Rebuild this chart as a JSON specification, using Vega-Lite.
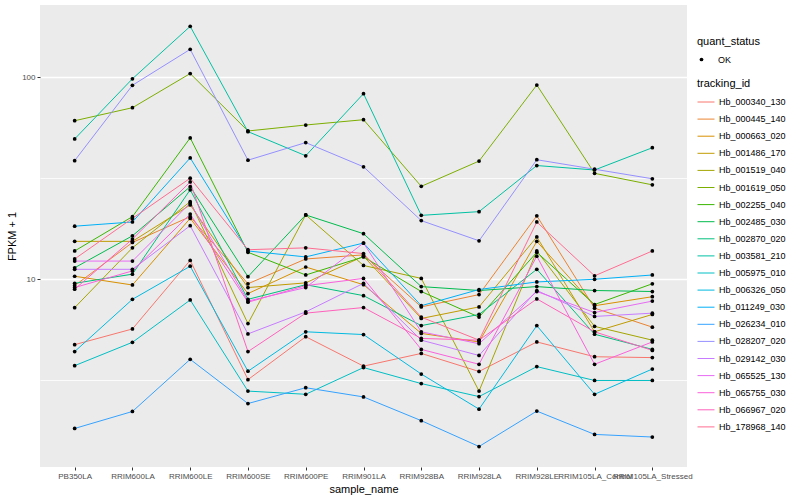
{
  "$schema": "https://vega.github.io/schema/vega-lite/v6.json",
  "autosize": {"type": "none"},
  "padding": {"left": 40, "top": 5, "right": 113, "bottom": 33},
  "width": 647,
  "height": 462,
  "background": "white",
  "config": {
    "font": "Liberation Sans",
    "view": {"fill": "#EBEBEB", "stroke": null},
    "axis": {"domain": false, "labelColor": "#4D4D4D", "labelFontSize": 8, "tickColor": "#333333", "tickSize": 3, "titleFontSize": 11, "titleFontWeight": "normal", "titleColor": "black", "gridColor": "white"},
    "legend": {"titleFontSize": 11, "titleFontWeight": "normal", "titleColor": "black", "labelFontSize": 9, "labelColor": "black", "titlePadding": 4}
  },
  "data": {"values": [
{"tracking_id":"Hb_000340_130","sample_name":"PB350LA","FPKM":4.75,"quant_status":"OK"},
{"tracking_id":"Hb_000340_130","sample_name":"RRIM600LA","FPKM":5.68,"quant_status":"OK"},
{"tracking_id":"Hb_000340_130","sample_name":"RRIM600LE","FPKM":12.4,"quant_status":"OK"},
{"tracking_id":"Hb_000340_130","sample_name":"RRIM600SE","FPKM":3.19,"quant_status":"OK"},
{"tracking_id":"Hb_000340_130","sample_name":"RRIM600PE","FPKM":5.2,"quant_status":"OK"},
{"tracking_id":"Hb_000340_130","sample_name":"RRIM901LA","FPKM":3.72,"quant_status":"OK"},
{"tracking_id":"Hb_000340_130","sample_name":"RRIM928BA","FPKM":4.3,"quant_status":"OK"},
{"tracking_id":"Hb_000340_130","sample_name":"RRIM928LA","FPKM":3.5,"quant_status":"OK"},
{"tracking_id":"Hb_000340_130","sample_name":"RRIM928LE","FPKM":4.9,"quant_status":"OK"},
{"tracking_id":"Hb_000340_130","sample_name":"RRIM105LA_Control","FPKM":4.14,"quant_status":"OK"},
{"tracking_id":"Hb_000340_130","sample_name":"RRIM105LA_Stressed","FPKM":4.1,"quant_status":"OK"},
{"tracking_id":"Hb_000445_140","sample_name":"PB350LA","FPKM":9.3,"quant_status":"OK"},
{"tracking_id":"Hb_000445_140","sample_name":"RRIM600LA","FPKM":15.2,"quant_status":"OK"},
{"tracking_id":"Hb_000445_140","sample_name":"RRIM600LE","FPKM":20.4,"quant_status":"OK"},
{"tracking_id":"Hb_000445_140","sample_name":"RRIM600SE","FPKM":9.5,"quant_status":"OK"},
{"tracking_id":"Hb_000445_140","sample_name":"RRIM600PE","FPKM":12.6,"quant_status":"OK"},
{"tracking_id":"Hb_000445_140","sample_name":"RRIM901LA","FPKM":13.2,"quant_status":"OK"},
{"tracking_id":"Hb_000445_140","sample_name":"RRIM928BA","FPKM":7.3,"quant_status":"OK"},
{"tracking_id":"Hb_000445_140","sample_name":"RRIM928LA","FPKM":8.4,"quant_status":"OK"},
{"tracking_id":"Hb_000445_140","sample_name":"RRIM928LE","FPKM":20.6,"quant_status":"OK"},
{"tracking_id":"Hb_000445_140","sample_name":"RRIM105LA_Control","FPKM":7.2,"quant_status":"OK"},
{"tracking_id":"Hb_000445_140","sample_name":"RRIM105LA_Stressed","FPKM":5.8,"quant_status":"OK"},
{"tracking_id":"Hb_000663_020","sample_name":"PB350LA","FPKM":10.35,"quant_status":"OK"},
{"tracking_id":"Hb_000663_020","sample_name":"RRIM600LA","FPKM":9.37,"quant_status":"OK"},
{"tracking_id":"Hb_000663_020","sample_name":"RRIM600LE","FPKM":20.0,"quant_status":"OK"},
{"tracking_id":"Hb_000663_020","sample_name":"RRIM600SE","FPKM":8.5,"quant_status":"OK"},
{"tracking_id":"Hb_000663_020","sample_name":"RRIM600PE","FPKM":11.5,"quant_status":"OK"},
{"tracking_id":"Hb_000663_020","sample_name":"RRIM901LA","FPKM":9.4,"quant_status":"OK"},
{"tracking_id":"Hb_000663_020","sample_name":"RRIM928BA","FPKM":5.4,"quant_status":"OK"},
{"tracking_id":"Hb_000663_020","sample_name":"RRIM928LA","FPKM":4.9,"quant_status":"OK"},
{"tracking_id":"Hb_000663_020","sample_name":"RRIM928LE","FPKM":15.4,"quant_status":"OK"},
{"tracking_id":"Hb_000663_020","sample_name":"RRIM105LA_Control","FPKM":7.4,"quant_status":"OK"},
{"tracking_id":"Hb_000663_020","sample_name":"RRIM105LA_Stressed","FPKM":8.2,"quant_status":"OK"},
{"tracking_id":"Hb_001486_170","sample_name":"PB350LA","FPKM":15.4,"quant_status":"OK"},
{"tracking_id":"Hb_001486_170","sample_name":"RRIM600LA","FPKM":15.4,"quant_status":"OK"},
{"tracking_id":"Hb_001486_170","sample_name":"RRIM600LE","FPKM":23.3,"quant_status":"OK"},
{"tracking_id":"Hb_001486_170","sample_name":"RRIM600SE","FPKM":9.1,"quant_status":"OK"},
{"tracking_id":"Hb_001486_170","sample_name":"RRIM600PE","FPKM":9.6,"quant_status":"OK"},
{"tracking_id":"Hb_001486_170","sample_name":"RRIM901LA","FPKM":13.0,"quant_status":"OK"},
{"tracking_id":"Hb_001486_170","sample_name":"RRIM928BA","FPKM":6.4,"quant_status":"OK"},
{"tracking_id":"Hb_001486_170","sample_name":"RRIM928LA","FPKM":7.3,"quant_status":"OK"},
{"tracking_id":"Hb_001486_170","sample_name":"RRIM928LE","FPKM":16.2,"quant_status":"OK"},
{"tracking_id":"Hb_001486_170","sample_name":"RRIM105LA_Control","FPKM":5.5,"quant_status":"OK"},
{"tracking_id":"Hb_001486_170","sample_name":"RRIM105LA_Stressed","FPKM":6.7,"quant_status":"OK"},
{"tracking_id":"Hb_001519_040","sample_name":"PB350LA","FPKM":7.24,"quant_status":"OK"},
{"tracking_id":"Hb_001519_040","sample_name":"RRIM600LA","FPKM":14.3,"quant_status":"OK"},
{"tracking_id":"Hb_001519_040","sample_name":"RRIM600LE","FPKM":24.2,"quant_status":"OK"},
{"tracking_id":"Hb_001519_040","sample_name":"RRIM600SE","FPKM":6.04,"quant_status":"OK"},
{"tracking_id":"Hb_001519_040","sample_name":"RRIM600PE","FPKM":20.8,"quant_status":"OK"},
{"tracking_id":"Hb_001519_040","sample_name":"RRIM901LA","FPKM":11.7,"quant_status":"OK"},
{"tracking_id":"Hb_001519_040","sample_name":"RRIM928BA","FPKM":10.1,"quant_status":"OK"},
{"tracking_id":"Hb_001519_040","sample_name":"RRIM928LA","FPKM":2.8,"quant_status":"OK"},
{"tracking_id":"Hb_001519_040","sample_name":"RRIM928LE","FPKM":13.8,"quant_status":"OK"},
{"tracking_id":"Hb_001519_040","sample_name":"RRIM105LA_Control","FPKM":5.85,"quant_status":"OK"},
{"tracking_id":"Hb_001519_040","sample_name":"RRIM105LA_Stressed","FPKM":5.0,"quant_status":"OK"},
{"tracking_id":"Hb_001619_050","sample_name":"PB350LA","FPKM":60.8,"quant_status":"OK"},
{"tracking_id":"Hb_001619_050","sample_name":"RRIM600LA","FPKM":70.5,"quant_status":"OK"},
{"tracking_id":"Hb_001619_050","sample_name":"RRIM600LE","FPKM":104,"quant_status":"OK"},
{"tracking_id":"Hb_001619_050","sample_name":"RRIM600SE","FPKM":54.1,"quant_status":"OK"},
{"tracking_id":"Hb_001619_050","sample_name":"RRIM600PE","FPKM":57.9,"quant_status":"OK"},
{"tracking_id":"Hb_001619_050","sample_name":"RRIM901LA","FPKM":61.5,"quant_status":"OK"},
{"tracking_id":"Hb_001619_050","sample_name":"RRIM928BA","FPKM":28.8,"quant_status":"OK"},
{"tracking_id":"Hb_001619_050","sample_name":"RRIM928LA","FPKM":38.4,"quant_status":"OK"},
{"tracking_id":"Hb_001619_050","sample_name":"RRIM928LE","FPKM":91.3,"quant_status":"OK"},
{"tracking_id":"Hb_001619_050","sample_name":"RRIM105LA_Control","FPKM":33.4,"quant_status":"OK"},
{"tracking_id":"Hb_001619_050","sample_name":"RRIM105LA_Stressed","FPKM":29.3,"quant_status":"OK"},
{"tracking_id":"Hb_002255_040","sample_name":"PB350LA","FPKM":13.8,"quant_status":"OK"},
{"tracking_id":"Hb_002255_040","sample_name":"RRIM600LA","FPKM":20.4,"quant_status":"OK"},
{"tracking_id":"Hb_002255_040","sample_name":"RRIM600LE","FPKM":50,"quant_status":"OK"},
{"tracking_id":"Hb_002255_040","sample_name":"RRIM600SE","FPKM":13.6,"quant_status":"OK"},
{"tracking_id":"Hb_002255_040","sample_name":"RRIM600PE","FPKM":10.5,"quant_status":"OK"},
{"tracking_id":"Hb_002255_040","sample_name":"RRIM901LA","FPKM":12.9,"quant_status":"OK"},
{"tracking_id":"Hb_002255_040","sample_name":"RRIM928BA","FPKM":8.7,"quant_status":"OK"},
{"tracking_id":"Hb_002255_040","sample_name":"RRIM928LA","FPKM":6.5,"quant_status":"OK"},
{"tracking_id":"Hb_002255_040","sample_name":"RRIM928LE","FPKM":13.6,"quant_status":"OK"},
{"tracking_id":"Hb_002255_040","sample_name":"RRIM105LA_Control","FPKM":7.5,"quant_status":"OK"},
{"tracking_id":"Hb_002255_040","sample_name":"RRIM105LA_Stressed","FPKM":9.5,"quant_status":"OK"},
{"tracking_id":"Hb_002485_030","sample_name":"PB350LA","FPKM":11.4,"quant_status":"OK"},
{"tracking_id":"Hb_002485_030","sample_name":"RRIM600LA","FPKM":16.4,"quant_status":"OK"},
{"tracking_id":"Hb_002485_030","sample_name":"RRIM600LE","FPKM":28.7,"quant_status":"OK"},
{"tracking_id":"Hb_002485_030","sample_name":"RRIM600SE","FPKM":10.3,"quant_status":"OK"},
{"tracking_id":"Hb_002485_030","sample_name":"RRIM600PE","FPKM":20.8,"quant_status":"OK"},
{"tracking_id":"Hb_002485_030","sample_name":"RRIM901LA","FPKM":16.8,"quant_status":"OK"},
{"tracking_id":"Hb_002485_030","sample_name":"RRIM928BA","FPKM":9.2,"quant_status":"OK"},
{"tracking_id":"Hb_002485_030","sample_name":"RRIM928LA","FPKM":8.8,"quant_status":"OK"},
{"tracking_id":"Hb_002485_030","sample_name":"RRIM928LE","FPKM":9.2,"quant_status":"OK"},
{"tracking_id":"Hb_002485_030","sample_name":"RRIM105LA_Control","FPKM":8.8,"quant_status":"OK"},
{"tracking_id":"Hb_002485_030","sample_name":"RRIM105LA_Stressed","FPKM":8.7,"quant_status":"OK"},
{"tracking_id":"Hb_002870_020","sample_name":"PB350LA","FPKM":9.55,"quant_status":"OK"},
{"tracking_id":"Hb_002870_020","sample_name":"RRIM600LA","FPKM":10.6,"quant_status":"OK"},
{"tracking_id":"Hb_002870_020","sample_name":"RRIM600LE","FPKM":27.7,"quant_status":"OK"},
{"tracking_id":"Hb_002870_020","sample_name":"RRIM600SE","FPKM":7.96,"quant_status":"OK"},
{"tracking_id":"Hb_002870_020","sample_name":"RRIM600PE","FPKM":9.4,"quant_status":"OK"},
{"tracking_id":"Hb_002870_020","sample_name":"RRIM901LA","FPKM":8.3,"quant_status":"OK"},
{"tracking_id":"Hb_002870_020","sample_name":"RRIM928BA","FPKM":5.9,"quant_status":"OK"},
{"tracking_id":"Hb_002870_020","sample_name":"RRIM928LA","FPKM":6.7,"quant_status":"OK"},
{"tracking_id":"Hb_002870_020","sample_name":"RRIM928LE","FPKM":11.2,"quant_status":"OK"},
{"tracking_id":"Hb_002870_020","sample_name":"RRIM105LA_Control","FPKM":5.35,"quant_status":"OK"},
{"tracking_id":"Hb_002870_020","sample_name":"RRIM105LA_Stressed","FPKM":4.5,"quant_status":"OK"},
{"tracking_id":"Hb_003581_210","sample_name":"PB350LA","FPKM":49.4,"quant_status":"OK"},
{"tracking_id":"Hb_003581_210","sample_name":"RRIM600LA","FPKM":98,"quant_status":"OK"},
{"tracking_id":"Hb_003581_210","sample_name":"RRIM600LE","FPKM":178,"quant_status":"OK"},
{"tracking_id":"Hb_003581_210","sample_name":"RRIM600SE","FPKM":53.7,"quant_status":"OK"},
{"tracking_id":"Hb_003581_210","sample_name":"RRIM600PE","FPKM":40.8,"quant_status":"OK"},
{"tracking_id":"Hb_003581_210","sample_name":"RRIM901LA","FPKM":82.7,"quant_status":"OK"},
{"tracking_id":"Hb_003581_210","sample_name":"RRIM928BA","FPKM":20.7,"quant_status":"OK"},
{"tracking_id":"Hb_003581_210","sample_name":"RRIM928LA","FPKM":21.6,"quant_status":"OK"},
{"tracking_id":"Hb_003581_210","sample_name":"RRIM928LE","FPKM":36.5,"quant_status":"OK"},
{"tracking_id":"Hb_003581_210","sample_name":"RRIM105LA_Control","FPKM":34.7,"quant_status":"OK"},
{"tracking_id":"Hb_003581_210","sample_name":"RRIM105LA_Stressed","FPKM":44.7,"quant_status":"OK"},
{"tracking_id":"Hb_005975_010","sample_name":"PB350LA","FPKM":3.74,"quant_status":"OK"},
{"tracking_id":"Hb_005975_010","sample_name":"RRIM600LA","FPKM":4.88,"quant_status":"OK"},
{"tracking_id":"Hb_005975_010","sample_name":"RRIM600LE","FPKM":7.9,"quant_status":"OK"},
{"tracking_id":"Hb_005975_010","sample_name":"RRIM600SE","FPKM":2.8,"quant_status":"OK"},
{"tracking_id":"Hb_005975_010","sample_name":"RRIM600PE","FPKM":2.7,"quant_status":"OK"},
{"tracking_id":"Hb_005975_010","sample_name":"RRIM901LA","FPKM":3.66,"quant_status":"OK"},
{"tracking_id":"Hb_005975_010","sample_name":"RRIM928BA","FPKM":3.05,"quant_status":"OK"},
{"tracking_id":"Hb_005975_010","sample_name":"RRIM928LA","FPKM":2.63,"quant_status":"OK"},
{"tracking_id":"Hb_005975_010","sample_name":"RRIM928LE","FPKM":3.7,"quant_status":"OK"},
{"tracking_id":"Hb_005975_010","sample_name":"RRIM105LA_Control","FPKM":3.16,"quant_status":"OK"},
{"tracking_id":"Hb_005975_010","sample_name":"RRIM105LA_Stressed","FPKM":3.16,"quant_status":"OK"},
{"tracking_id":"Hb_006326_050","sample_name":"PB350LA","FPKM":4.39,"quant_status":"OK"},
{"tracking_id":"Hb_006326_050","sample_name":"RRIM600LA","FPKM":7.96,"quant_status":"OK"},
{"tracking_id":"Hb_006326_050","sample_name":"RRIM600LE","FPKM":11.6,"quant_status":"OK"},
{"tracking_id":"Hb_006326_050","sample_name":"RRIM600SE","FPKM":3.51,"quant_status":"OK"},
{"tracking_id":"Hb_006326_050","sample_name":"RRIM600PE","FPKM":5.5,"quant_status":"OK"},
{"tracking_id":"Hb_006326_050","sample_name":"RRIM901LA","FPKM":5.33,"quant_status":"OK"},
{"tracking_id":"Hb_006326_050","sample_name":"RRIM928BA","FPKM":3.4,"quant_status":"OK"},
{"tracking_id":"Hb_006326_050","sample_name":"RRIM928LA","FPKM":2.28,"quant_status":"OK"},
{"tracking_id":"Hb_006326_050","sample_name":"RRIM928LE","FPKM":5.9,"quant_status":"OK"},
{"tracking_id":"Hb_006326_050","sample_name":"RRIM105LA_Control","FPKM":2.7,"quant_status":"OK"},
{"tracking_id":"Hb_006326_050","sample_name":"RRIM105LA_Stressed","FPKM":3.6,"quant_status":"OK"},
{"tracking_id":"Hb_011249_030","sample_name":"PB350LA","FPKM":18.3,"quant_status":"OK"},
{"tracking_id":"Hb_011249_030","sample_name":"RRIM600LA","FPKM":19.2,"quant_status":"OK"},
{"tracking_id":"Hb_011249_030","sample_name":"RRIM600LE","FPKM":39.8,"quant_status":"OK"},
{"tracking_id":"Hb_011249_030","sample_name":"RRIM600SE","FPKM":13.8,"quant_status":"OK"},
{"tracking_id":"Hb_011249_030","sample_name":"RRIM600PE","FPKM":12.9,"quant_status":"OK"},
{"tracking_id":"Hb_011249_030","sample_name":"RRIM901LA","FPKM":15.1,"quant_status":"OK"},
{"tracking_id":"Hb_011249_030","sample_name":"RRIM928BA","FPKM":7.4,"quant_status":"OK"},
{"tracking_id":"Hb_011249_030","sample_name":"RRIM928LA","FPKM":8.9,"quant_status":"OK"},
{"tracking_id":"Hb_011249_030","sample_name":"RRIM928LE","FPKM":9.7,"quant_status":"OK"},
{"tracking_id":"Hb_011249_030","sample_name":"RRIM105LA_Control","FPKM":10.0,"quant_status":"OK"},
{"tracking_id":"Hb_011249_030","sample_name":"RRIM105LA_Stressed","FPKM":10.5,"quant_status":"OK"},
{"tracking_id":"Hb_026234_010","sample_name":"PB350LA","FPKM":1.83,"quant_status":"OK"},
{"tracking_id":"Hb_026234_010","sample_name":"RRIM600LA","FPKM":2.22,"quant_status":"OK"},
{"tracking_id":"Hb_026234_010","sample_name":"RRIM600LE","FPKM":4.02,"quant_status":"OK"},
{"tracking_id":"Hb_026234_010","sample_name":"RRIM600SE","FPKM":2.43,"quant_status":"OK"},
{"tracking_id":"Hb_026234_010","sample_name":"RRIM600PE","FPKM":2.91,"quant_status":"OK"},
{"tracking_id":"Hb_026234_010","sample_name":"RRIM901LA","FPKM":2.62,"quant_status":"OK"},
{"tracking_id":"Hb_026234_010","sample_name":"RRIM928BA","FPKM":2.0,"quant_status":"OK"},
{"tracking_id":"Hb_026234_010","sample_name":"RRIM928LA","FPKM":1.49,"quant_status":"OK"},
{"tracking_id":"Hb_026234_010","sample_name":"RRIM928LE","FPKM":2.23,"quant_status":"OK"},
{"tracking_id":"Hb_026234_010","sample_name":"RRIM105LA_Control","FPKM":1.71,"quant_status":"OK"},
{"tracking_id":"Hb_026234_010","sample_name":"RRIM105LA_Stressed","FPKM":1.66,"quant_status":"OK"},
{"tracking_id":"Hb_028207_020","sample_name":"PB350LA","FPKM":38.6,"quant_status":"OK"},
{"tracking_id":"Hb_028207_020","sample_name":"RRIM600LA","FPKM":91,"quant_status":"OK"},
{"tracking_id":"Hb_028207_020","sample_name":"RRIM600LE","FPKM":137,"quant_status":"OK"},
{"tracking_id":"Hb_028207_020","sample_name":"RRIM600SE","FPKM":38.8,"quant_status":"OK"},
{"tracking_id":"Hb_028207_020","sample_name":"RRIM600PE","FPKM":47.4,"quant_status":"OK"},
{"tracking_id":"Hb_028207_020","sample_name":"RRIM901LA","FPKM":36,"quant_status":"OK"},
{"tracking_id":"Hb_028207_020","sample_name":"RRIM928BA","FPKM":19.5,"quant_status":"OK"},
{"tracking_id":"Hb_028207_020","sample_name":"RRIM928LA","FPKM":15.5,"quant_status":"OK"},
{"tracking_id":"Hb_028207_020","sample_name":"RRIM928LE","FPKM":39,"quant_status":"OK"},
{"tracking_id":"Hb_028207_020","sample_name":"RRIM105LA_Control","FPKM":35,"quant_status":"OK"},
{"tracking_id":"Hb_028207_020","sample_name":"RRIM105LA_Stressed","FPKM":31.4,"quant_status":"OK"},
{"tracking_id":"Hb_029142_030","sample_name":"PB350LA","FPKM":11.2,"quant_status":"OK"},
{"tracking_id":"Hb_029142_030","sample_name":"RRIM600LA","FPKM":11.2,"quant_status":"OK"},
{"tracking_id":"Hb_029142_030","sample_name":"RRIM600LE","FPKM":18.4,"quant_status":"OK"},
{"tracking_id":"Hb_029142_030","sample_name":"RRIM600SE","FPKM":5.37,"quant_status":"OK"},
{"tracking_id":"Hb_029142_030","sample_name":"RRIM600PE","FPKM":6.9,"quant_status":"OK"},
{"tracking_id":"Hb_029142_030","sample_name":"RRIM901LA","FPKM":9.55,"quant_status":"OK"},
{"tracking_id":"Hb_029142_030","sample_name":"RRIM928BA","FPKM":5.0,"quant_status":"OK"},
{"tracking_id":"Hb_029142_030","sample_name":"RRIM928LA","FPKM":4.2,"quant_status":"OK"},
{"tracking_id":"Hb_029142_030","sample_name":"RRIM928LE","FPKM":8.8,"quant_status":"OK"},
{"tracking_id":"Hb_029142_030","sample_name":"RRIM105LA_Control","FPKM":6.55,"quant_status":"OK"},
{"tracking_id":"Hb_029142_030","sample_name":"RRIM105LA_Stressed","FPKM":6.8,"quant_status":"OK"},
{"tracking_id":"Hb_065525_130","sample_name":"PB350LA","FPKM":12.3,"quant_status":"OK"},
{"tracking_id":"Hb_065525_130","sample_name":"RRIM600LA","FPKM":12.3,"quant_status":"OK"},
{"tracking_id":"Hb_065525_130","sample_name":"RRIM600LE","FPKM":23.8,"quant_status":"OK"},
{"tracking_id":"Hb_065525_130","sample_name":"RRIM600SE","FPKM":7.8,"quant_status":"OK"},
{"tracking_id":"Hb_065525_130","sample_name":"RRIM600PE","FPKM":9.1,"quant_status":"OK"},
{"tracking_id":"Hb_065525_130","sample_name":"RRIM901LA","FPKM":15.1,"quant_status":"OK"},
{"tracking_id":"Hb_065525_130","sample_name":"RRIM928BA","FPKM":5.5,"quant_status":"OK"},
{"tracking_id":"Hb_065525_130","sample_name":"RRIM928LA","FPKM":4.8,"quant_status":"OK"},
{"tracking_id":"Hb_065525_130","sample_name":"RRIM928LE","FPKM":8.7,"quant_status":"OK"},
{"tracking_id":"Hb_065525_130","sample_name":"RRIM105LA_Control","FPKM":6.85,"quant_status":"OK"},
{"tracking_id":"Hb_065525_130","sample_name":"RRIM105LA_Stressed","FPKM":7.8,"quant_status":"OK"},
{"tracking_id":"Hb_065755_030","sample_name":"PB350LA","FPKM":9.1,"quant_status":"OK"},
{"tracking_id":"Hb_065755_030","sample_name":"RRIM600LA","FPKM":11.0,"quant_status":"OK"},
{"tracking_id":"Hb_065755_030","sample_name":"RRIM600LE","FPKM":21.0,"quant_status":"OK"},
{"tracking_id":"Hb_065755_030","sample_name":"RRIM600SE","FPKM":7.7,"quant_status":"OK"},
{"tracking_id":"Hb_065755_030","sample_name":"RRIM600PE","FPKM":9.3,"quant_status":"OK"},
{"tracking_id":"Hb_065755_030","sample_name":"RRIM901LA","FPKM":10.1,"quant_status":"OK"},
{"tracking_id":"Hb_065755_030","sample_name":"RRIM928BA","FPKM":4.5,"quant_status":"OK"},
{"tracking_id":"Hb_065755_030","sample_name":"RRIM928LA","FPKM":3.8,"quant_status":"OK"},
{"tracking_id":"Hb_065755_030","sample_name":"RRIM928LE","FPKM":13.0,"quant_status":"OK"},
{"tracking_id":"Hb_065755_030","sample_name":"RRIM105LA_Control","FPKM":3.8,"quant_status":"OK"},
{"tracking_id":"Hb_065755_030","sample_name":"RRIM105LA_Stressed","FPKM":4.9,"quant_status":"OK"},
{"tracking_id":"Hb_066967_020","sample_name":"PB350LA","FPKM":8.93,"quant_status":"OK"},
{"tracking_id":"Hb_066967_020","sample_name":"RRIM600LA","FPKM":15.8,"quant_status":"OK"},
{"tracking_id":"Hb_066967_020","sample_name":"RRIM600LE","FPKM":30.3,"quant_status":"OK"},
{"tracking_id":"Hb_066967_020","sample_name":"RRIM600SE","FPKM":4.39,"quant_status":"OK"},
{"tracking_id":"Hb_066967_020","sample_name":"RRIM600PE","FPKM":6.8,"quant_status":"OK"},
{"tracking_id":"Hb_066967_020","sample_name":"RRIM901LA","FPKM":7.25,"quant_status":"OK"},
{"tracking_id":"Hb_066967_020","sample_name":"RRIM928BA","FPKM":5.1,"quant_status":"OK"},
{"tracking_id":"Hb_066967_020","sample_name":"RRIM928LA","FPKM":5.0,"quant_status":"OK"},
{"tracking_id":"Hb_066967_020","sample_name":"RRIM928LE","FPKM":8.0,"quant_status":"OK"},
{"tracking_id":"Hb_066967_020","sample_name":"RRIM105LA_Control","FPKM":5.5,"quant_status":"OK"},
{"tracking_id":"Hb_066967_020","sample_name":"RRIM105LA_Stressed","FPKM":4.45,"quant_status":"OK"},
{"tracking_id":"Hb_178968_140","sample_name":"PB350LA","FPKM":12.6,"quant_status":"OK"},
{"tracking_id":"Hb_178968_140","sample_name":"RRIM600LA","FPKM":20.0,"quant_status":"OK"},
{"tracking_id":"Hb_178968_140","sample_name":"RRIM600LE","FPKM":31.6,"quant_status":"OK"},
{"tracking_id":"Hb_178968_140","sample_name":"RRIM600SE","FPKM":14.0,"quant_status":"OK"},
{"tracking_id":"Hb_178968_140","sample_name":"RRIM600PE","FPKM":14.3,"quant_status":"OK"},
{"tracking_id":"Hb_178968_140","sample_name":"RRIM901LA","FPKM":13.4,"quant_status":"OK"},
{"tracking_id":"Hb_178968_140","sample_name":"RRIM928BA","FPKM":6.5,"quant_status":"OK"},
{"tracking_id":"Hb_178968_140","sample_name":"RRIM928LA","FPKM":5.0,"quant_status":"OK"},
{"tracking_id":"Hb_178968_140","sample_name":"RRIM928LE","FPKM":19.2,"quant_status":"OK"},
{"tracking_id":"Hb_178968_140","sample_name":"RRIM105LA_Control","FPKM":10.4,"quant_status":"OK"},
{"tracking_id":"Hb_178968_140","sample_name":"RRIM105LA_Stressed","FPKM":13.8,"quant_status":"OK"}
  ]},
  "encoding": {
    "x": {
      "field": "sample_name", "type": "ordinal",
      "sort": ["PB350LA","RRIM600LA","RRIM600LE","RRIM600SE","RRIM600PE","RRIM901LA","RRIM928BA","RRIM928LA","RRIM928LE","RRIM105LA_Control","RRIM105LA_Stressed"],
      "scale": {"padding": 0.6},
      "axis": {"title": "sample_name", "labelAngle": 0, "labelOverlap": false, "labelBound": false, "labelPadding": 2, "titlePadding": 3, "gridWidth": 1.6}
    },
    "y": {
      "field": "FPKM", "type": "quantitative",
      "scale": {"type": "log", "domain": [1.18, 227], "nice": false, "zero": false},
      "axis": {
        "title": "FPKM + 1",
        "values": [3.1623, 10, 31.623, 100],
        "labelExpr": "(datum.value == 10 || datum.value == 100) ? datum.label : ''",
        "gridWidth": {"condition": {"test": "datum.value == 10 || datum.value == 100", "value": 1.6}, "value": 0.8},
        "tickOpacity": {"condition": {"test": "datum.value == 10 || datum.value == 100", "value": 1}, "value": 0},
        "labelPadding": 2,
        "titlePadding": 4
      }
    }
  },
  "layer": [
    {
      "mark": {"type": "line", "strokeWidth": 1},
      "encoding": {
        "color": {
          "field": "tracking_id", "type": "nominal",
          "scale": {
            "domain": ["Hb_000340_130","Hb_000445_140","Hb_000663_020","Hb_001486_170","Hb_001519_040","Hb_001619_050","Hb_002255_040","Hb_002485_030","Hb_002870_020","Hb_003581_210","Hb_005975_010","Hb_006326_050","Hb_011249_030","Hb_026234_010","Hb_028207_020","Hb_029142_030","Hb_065525_130","Hb_065755_030","Hb_066967_020","Hb_178968_140"],
            "range": ["#F8766D","#EA8331","#D89000","#C09B00","#A3A500","#7CAE00","#39B600","#00BB4E","#00BF7D","#00C1A3","#00BFC4","#00BAE0","#00B0F6","#35A2FF","#9590FF","#C77CFF","#E76BF3","#FA62DB","#FF62BC","#FF6C91"]
          },
          "legend": {"title": "tracking_id", "orient": "none", "legendX": 657, "legendY": 73, "symbolType": "stroke", "symbolSize": 289, "symbolStrokeWidth": 1, "rowPadding": 3.1, "labelOffset": 4}
        }
      }
    },
    {
      "mark": {"type": "point", "filled": true, "color": "black", "opacity": 1, "size": 14},
      "encoding": {
        "shape": {
          "field": "quant_status", "type": "nominal",
          "scale": {"range": ["circle"]},
          "legend": {"title": "quant_status", "orient": "none", "legendX": 657, "legendY": 31, "titlePadding": 8, "symbolSize": 14, "symbolFillColor": "black", "symbolStrokeColor": "black", "labelOffset": 12}
        }
      }
    }
  ]
}
